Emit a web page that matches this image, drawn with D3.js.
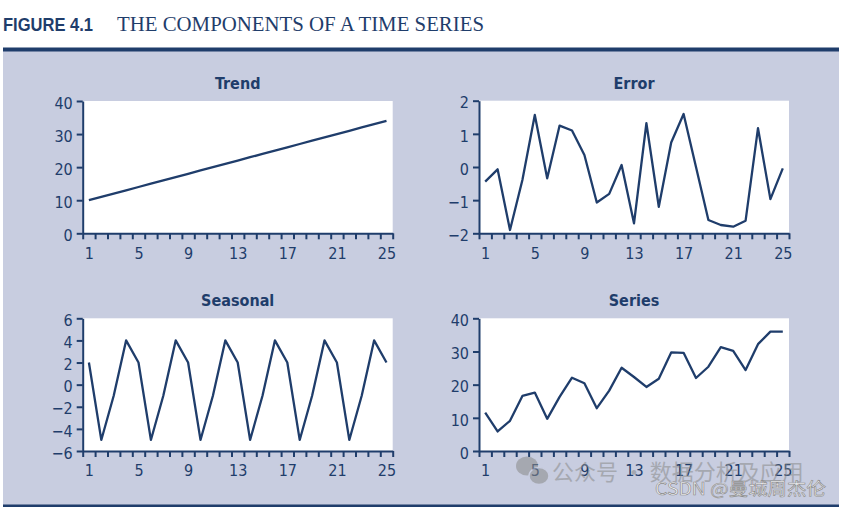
<!DOCTYPE html>
<html><head><meta charset="utf-8">
<script src="https://cdn.jsdelivr.net/npm/d3@7"></script>
<style>
html,body{margin:0;padding:0;background:#fff;}
svg{display:block;}
</style></head>
<body>
<script>
const periods = d3.range(1, 26);
const xTickLabels = [1, 5, 9, 13, 17, 21, 25];

const trendValues = [10,11,12,13,14,15,16,17,18,19,20,21,22,23,24,25,26,27,28,29,30,31,32,33,34];
const errorValues = [-0.44,-0.07,-1.90,-0.39,1.57,-0.34,1.25,1.10,0.36,-1.07,-0.81,0.06,-1.70,1.32,-1.20,0.74,1.60,0.00,-1.60,-1.75,-1.80,-1.62,1.17,-0.97,-0.04];
const seasonalValues = [2,-5,-1,4,2,-5,-1,4,2,-5,-1,4,2,-5,-1,4,2,-5,-1,4,2,-5,-1,4,2];
const seriesValues = [11.6,5.9,9.1,16.6,17.6,9.7,16.3,22.1,20.4,12.9,18.2,25.1,22.3,19.3,21.8,29.7,29.6,22.0,25.4,31.3,30.2,24.4,32.2,36.0,36.0];

const trendTicks = [0,10,20,30,40];
const errorTicks = [-2,-1,0,1,2];
const seasonalTicks = [-6,-4,-2,0,2,4,6];
const seriesTicks = [0,10,20,30,40];

const W = 842, H = 507;
const dark = "#1f3d6b";
const panelBg = "#c8cde0";
const font = "'DejaVu Sans Condensed','DejaVu Sans',sans-serif";

const svg = d3.select("body").append("svg").attr("width", W).attr("height", H);

// header
svg.append("text").attr("x", 3).attr("y", 31).attr("fill", dark)
  .attr("font-family", "'Liberation Sans',Arial,sans-serif").attr("font-weight", "bold")
  .attr("font-size", 18).attr("textLength", 90).attr("lengthAdjust", "spacingAndGlyphs")
  .text("FIGURE 4.1");
svg.append("text").attr("x", 117).attr("y", 31).attr("fill", dark)
  .attr("font-family", "'Liberation Serif','Times New Roman',serif")
  .attr("font-size", 20).attr("textLength", 367).attr("lengthAdjust", "spacingAndGlyphs")
  .text("THE COMPONENTS OF A TIME SERIES");

// panel background
svg.append("rect").attr("x", 3).attr("y", 50).attr("width", 836).attr("height", 455).attr("fill", panelBg);
svg.append("rect").attr("x", 3).attr("y", 47.5).attr("width", 836).attr("height", 4).attr("fill", dark);
svg.append("rect").attr("x", 3).attr("y", 504.5).attr("width", 836).attr("height", 2.5).attr("fill", dark);

const panels = [
  {title: "Trend", values: trendValues, ticks: trendTicks, left: 82.7, top: 101, right: 392.7, bottom: 233.3},
  {title: "Error", values: errorValues, ticks: errorTicks, left: 479, top: 100.7, right: 789, bottom: 233.3},
  {title: "Seasonal", values: seasonalValues, ticks: seasonalTicks, left: 82.7, top: 318.3, right: 392.7, bottom: 451},
  {title: "Series", values: seriesValues, ticks: seriesTicks, left: 479, top: 318.3, right: 789, bottom: 451}
];

panels.forEach(p => {
  const g = svg.append("g");
  const x = d3.scaleLinear().domain([0.5, 25.5]).range([p.left, p.right]);
  const y = d3.scaleLinear().domain(d3.extent(p.ticks)).range([p.bottom, p.top]);

  g.append("rect").attr("x", p.left).attr("y", p.top)
    .attr("width", p.right - p.left).attr("height", p.bottom - p.top).attr("fill", "#fff");

  g.append("text").attr("x", (p.left + p.right) / 2).attr("y", p.top - 12)
    .attr("text-anchor", "middle").attr("font-family", font).attr("font-weight", "bold")
    .attr("font-size", 16).attr("fill", dark).text(p.title);

  // data line
  const line = d3.line().x((d, i) => x(periods[i])).y(d => y(d));
  g.append("path").datum(p.values).attr("d", line).attr("fill", "none")
    .attr("stroke", dark).attr("stroke-width", 2.3).attr("stroke-linejoin", "round");

  // y axis
  const ya = g.append("g").attr("transform", `translate(${p.left},0)`)
    .call(d3.axisLeft(y).tickValues(p.ticks).tickSize(6).tickSizeOuter(0).tickPadding(4).tickFormat(d3.format("d")));
  ya.select(".domain").attr("stroke", dark).attr("stroke-width", 2);
  ya.selectAll(".tick line").attr("stroke", dark).attr("stroke-width", 2);
  ya.selectAll(".tick text").attr("fill", dark).attr("font-family", font).attr("font-size", 16).attr("dy", "0.45em");

  // x axis: ticks at category boundaries
  const bounds = d3.range(0, 26).map(i => i + 0.5);
  const xa = g.append("g").attr("transform", `translate(0,${p.bottom})`)
    .call(d3.axisBottom(x).tickValues(bounds).tickSize(6).tickSizeOuter(0).tickFormat(""));
  xa.select(".domain").attr("stroke", dark).attr("stroke-width", 2);
  xa.selectAll(".tick line").attr("stroke", dark).attr("stroke-width", 2);

  const xl = g.append("g").attr("transform", `translate(0,${p.bottom})`)
    .call(d3.axisBottom(x).tickValues(xTickLabels).tickSize(0).tickPadding(14).tickFormat(d3.format("d")));
  xl.select(".domain").remove();
  xl.selectAll(".tick text").attr("fill", dark).attr("font-family", font).attr("font-size", 16);
});

// watermark
const wm = svg.append("g").attr("opacity", 0.55);
wm.append("ellipse").attr("cx", 527).attr("cy", 466).attr("rx", 11).attr("ry", 9.5).attr("fill", "#8a8a8a");
wm.append("ellipse").attr("cx", 539).attr("cy", 476).attr("rx", 10).attr("ry", 8.5).attr("fill", "#8a8a8a").attr("stroke", panelBg).attr("stroke-width", 1.5);
wm.append("text").attr("x", 552).attr("y", 480).attr("font-family", "'Noto Sans CJK SC',sans-serif")
  .attr("font-size", 22).attr("fill", "#8a8a8a").text("公众号 · 数据分析及应用");
svg.append("text").attr("x", 655).attr("y", 495).attr("font-family", "'Noto Sans CJK SC',sans-serif")
  .attr("font-size", 17).attr("fill", "#f4f4f6").attr("stroke", "#8a8a8a").attr("stroke-width", 0.6)
  .attr("textLength", 171).attr("lengthAdjust", "spacingAndGlyphs")
  .text("CSDN @曼城周杰伦");
</script>
</body></html>
